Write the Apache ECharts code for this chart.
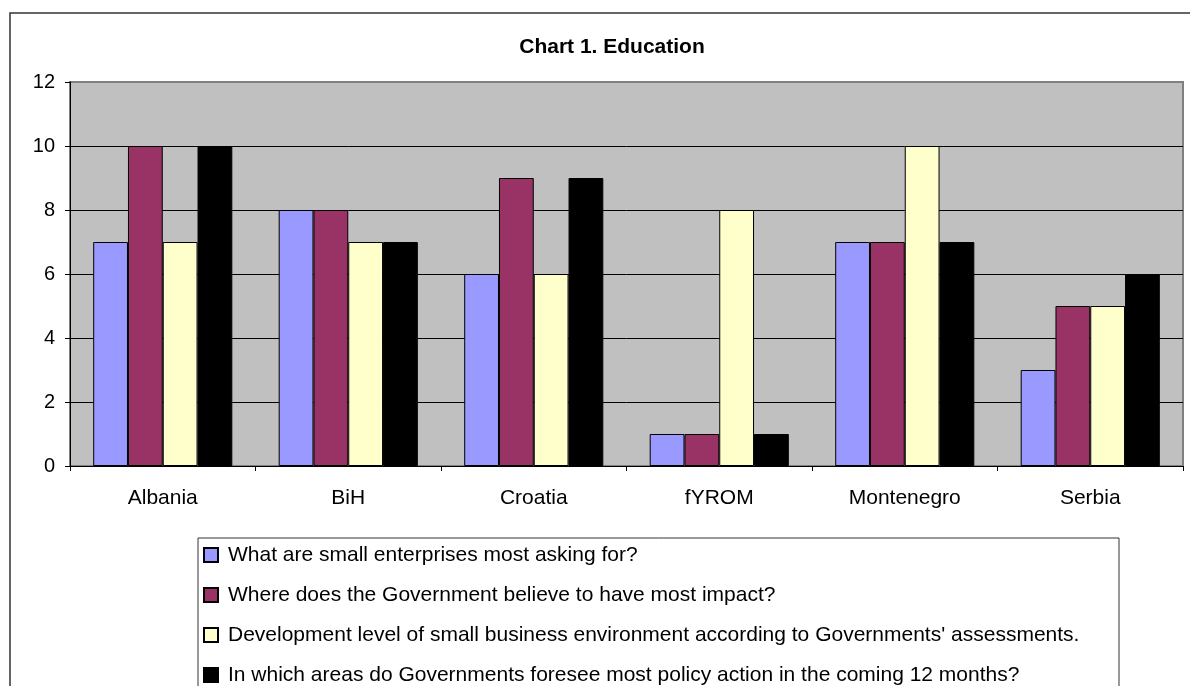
<!DOCTYPE html>
<html>
<head>
<meta charset="utf-8">
<script src="https://cdn.jsdelivr.net/npm/echarts@6/dist/echarts.min.js"></script>
<style>
  html, body { margin: 0; padding: 0; background: #fff; }
  #chart { width: 1190px; height: 686px; }
</style>
</head>
<body>
<div id="chart"></div>
<script>
// Countries on the category axis
const countries = ['Albania', 'BiH', 'Croatia', 'fYROM', 'Montenegro', 'Serbia'];

// Series names (survey questions)
const seriesNames = [
  'What are small enterprises most asking for?',
  'Where does the Government believe to have most impact?',
  "Development level of small business environment according to Governments' assessments.",
  'In which areas do Governments foresee most policy action in the coming 12 months?'
];

// Scores per country, one array per question
const askingFor    = [7, 8, 6, 1, 7, 3];
const mostImpact   = [10, 8, 9, 1, 7, 5];
const devLevel     = [7, 7, 6, 8, 10, 5];
const policyAction = [10, 7, 9, 1, 7, 6];

// Value axis ticks
const yMin = 0, yMax = 12, yStep = 2;

const seriesValues = [askingFor, mostImpact, devLevel, policyAction];
const seriesColors = ['#9999FF', '#993366', '#FFFFCC', '#000000'];
const FONT = 'Liberation Sans, Arial, sans-serif';

const chart = echarts.init(document.getElementById('chart'));

chart.setOption({
  animation: false,
  backgroundColor: '#ffffff',
  title: {
    text: 'Chart 1. Education',
    left: 607,
    top: 32,
    textAlign: 'center',
    textStyle: { fontFamily: FONT, fontSize: 21, fontWeight: 'bold', color: '#000' }
  },
  graphic: [
    {
      type: 'rect',
      shape: { x: 10, y: 13, width: 1200, height: 720 },
      style: { fill: 'none', stroke: '#333', lineWidth: 1.5 },
      z: -1
    },
    {
      type: 'rect',
      shape: { x: 198, y: 538, width: 921, height: 200 },
      style: { fill: '#fff', stroke: '#333', lineWidth: 1 },
      z: 0
    }
  ],
  legend: {
    orient: 'vertical',
    left: 203,
    top: 543,
    height: 400,
    padding: 0,
    itemWidth: 14,
    itemHeight: 14,
    itemGap: 16,
    icon: 'rect',
    z: 5,
    textStyle: { fontFamily: FONT, fontSize: 21, color: '#000', lineHeight: 24, padding: [0, 0, 0, 5] },
    data: seriesNames
  },
  grid: {
    left: 70,
    top: 82,
    right: 7,
    bottom: 220,
    show: true,
    backgroundColor: '#C0C0C0',
    borderColor: '#808080',
    borderWidth: 2
  },
  xAxis: {
    type: 'category',
    data: countries,
    axisLine: { lineStyle: { color: '#000', width: 1 } },
    axisTick: { show: true, length: 5, lineStyle: { color: '#000' } },
    axisLabel: { fontFamily: FONT, fontSize: 21, color: '#000', margin: 22 },
    splitLine: { show: false }
  },
  yAxis: {
    type: 'value',
    min: yMin,
    max: yMax,
    interval: yStep,
    axisLine: { show: true, lineStyle: { color: '#000', width: 1 } },
    axisTick: { show: true, length: 5, lineStyle: { color: '#000' } },
    axisLabel: { fontFamily: FONT, fontSize: 20, color: '#000', margin: 15 },
    splitLine: { show: true, showMaxLine: false, lineStyle: { color: '#000', width: 1 } }
  },
  series: seriesNames.map((name, i) => ({
    name: name,
    type: 'bar',
    data: seriesValues[i],
    barGap: '0%',
    barCategoryGap: '25%',
    itemStyle: { color: seriesColors[i], borderColor: '#000', borderWidth: 1 }
  }))
});
</script>
</body>
</html>
